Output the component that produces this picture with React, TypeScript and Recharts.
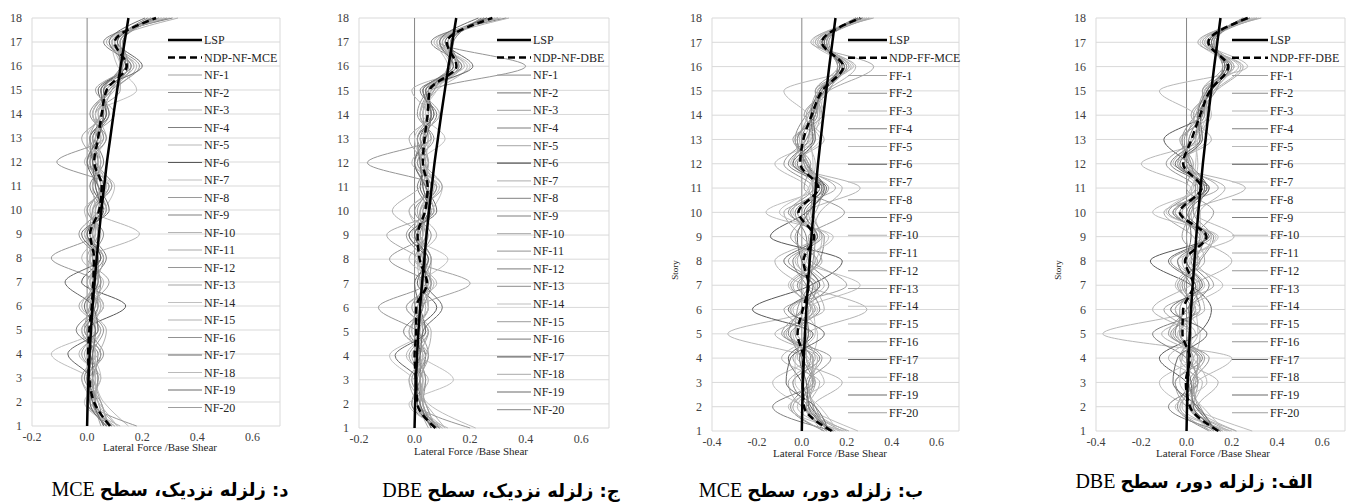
import React from 'react';
import { LineChart, Line, XAxis, YAxis, CartesianGrid, ReferenceLine } from 'recharts';

// story levels, bottom (1) to top (18)
const STORIES = [1, 2, 3, 4, 5, 6, 7, 8, 9, 10, 11, 12, 13, 14, 15, 16, 17, 18];

// code (linear static) distribution, same in all four panels
const LSP = [0, 0.002, 0.005, 0.009, 0.014, 0.02, 0.027, 0.035, 0.043, 0.052, 0.062, 0.072, 0.084, 0.096, 0.109, 0.122, 0.136, 0.15];

// mean nonlinear dynamic distributions
const NDP_NF_MCE = [0.083, 0.025, 0.008, 0.004, 0.008, 0.017, 0.022, 0.025, 0.011, 0.044, 0.053, 0.026, 0.04, 0.053, 0.071, 0.144, 0.1, 0.25];
const NDP_NF_DBE = [0.075, 0.01, 0.005, 0.0, 0.006, 0.006, 0.045, 0.018, 0.011, 0.038, 0.047, 0.03, 0.036, 0.047, 0.054, 0.151, 0.116, 0.28];
const NDP_FF_MCE = [0.133, 0.01, 0.004, 0.007, -0.019, 0.004, 0.03, 0.007, 0.055, -0.015, 0.074, -0.007, 0.007, 0.044, 0.09, 0.185, 0.089, 0.26];
const NDP_FF_DBE = [0.14, 0.015, -0.003, 0.015, -0.018, -0.015, 0.03, -0.007, 0.088, -0.03, 0.066, -0.015, 0.022, 0.06, 0.103, 0.184, 0.096, 0.27];

// individual records (NF-1..NF-20 / FF-1..FF-20), story 1..18
const NF_MCE = [
  [0.10, 0.02, 0.04, -0.02, 0.03, 0.00, 0.05, 0.01, 0.03, 0.02, 0.08, 0.00, 0.06, 0.03, 0.09, 0.16, 0.09, 0.26],
  [0.07, 0.05, -0.01, 0.03, -0.02, 0.04, 0.00, 0.06, -0.01, 0.07, 0.03, 0.05, 0.01, 0.08, 0.05, 0.13, 0.12, 0.24],
  [0.12, 0.00, 0.03, 0.01, 0.05, -0.02, 0.03, 0.02, 0.05, 0.00, 0.06, 0.02, 0.07, 0.04, 0.10, 0.18, 0.07, 0.30],
  [0.06, 0.04, 0.00, 0.05, -0.01, 0.06, 0.01, 0.04, 0.00, 0.05, 0.04, 0.01, 0.03, 0.06, 0.06, 0.12, 0.11, 0.22],
  [0.09, 0.01, 0.05, -0.03, 0.04, 0.02, 0.06, -0.02, 0.04, 0.03, 0.09, -0.01, 0.05, 0.02, 0.08, 0.15, 0.10, 0.27],
  [0.08, 0.03, 0.02, 0.02, 0.00, 0.14, -0.02, 0.05, 0.01, 0.06, 0.02, 0.04, 0.02, 0.07, 0.04, 0.14, 0.13, 0.23],
  [0.15, 0.06, 0.01, -0.13, 0.03, 0.01, 0.04, 0.01, 0.02, -0.01, 0.07, 0.03, 0.00, 0.05, 0.07, 0.17, 0.08, 0.28],
  [0.07, 0.02, 0.04, 0.02, 0.06, 0.00, 0.03, 0.03, -0.03, 0.04, 0.05, 0.02, 0.04, 0.03, 0.12, 0.12, 0.12, 0.25],
  [0.09, 0.00, 0.02, 0.04, -0.04, 0.03, 0.02, 0.07, 0.02, 0.05, 0.01, 0.06, 0.03, 0.08, 0.05, 0.16, 0.06, 0.31],
  [0.11, 0.04, -0.02, 0.03, 0.02, 0.05, 0.00, 0.01, 0.19, 0.02, 0.06, 0.00, 0.05, 0.04, 0.08, 0.15, 0.11, 0.26],
  [0.05, 0.03, 0.03, -0.01, 0.05, -0.03, 0.05, 0.02, 0.00, 0.07, 0.04, 0.03, -0.02, 0.06, 0.06, 0.13, 0.10, 0.24],
  [0.18, 0.01, 0.00, 0.06, 0.01, 0.04, 0.03, -0.13, 0.03, 0.03, 0.08, -0.11, 0.06, 0.02, 0.09, 0.19, 0.09, 0.29],
  [0.08, 0.05, 0.02, 0.00, 0.03, 0.02, 0.08, 0.00, 0.04, 0.01, 0.05, 0.04, 0.02, 0.10, 0.03, 0.14, 0.12, 0.23],
  [0.10, -0.01, 0.05, 0.02, -0.02, 0.06, 0.01, 0.04, -0.01, 0.06, 0.10, 0.02, 0.04, 0.03, 0.18, 0.11, 0.09, 0.27],
  [0.06, 0.02, -0.02, 0.04, 0.07, 0.00, 0.02, 0.03, 0.02, 0.03, 0.02, 0.05, 0.03, 0.05, 0.07, 0.17, 0.10, 0.33],
  [0.09, 0.03, 0.04, 0.01, 0.00, 0.03, 0.05, 0.02, 0.06, 0.00, 0.06, 0.01, 0.07, 0.01, 0.08, 0.15, 0.13, 0.25],
  [0.07, 0.01, 0.01, -0.07, 0.04, 0.02, -0.08, 0.05, 0.00, 0.05, 0.03, 0.02, 0.01, 0.07, 0.06, 0.20, 0.11, 0.24],
  [0.11, 0.04, 0.03, 0.03, 0.01, 0.05, 0.02, 0.01, 0.03, 0.04, 0.07, 0.04, 0.05, 0.02, 0.07, 0.12, 0.09, 0.28],
  [0.06, 0.02, 0.00, 0.02, 0.03, -0.01, 0.04, 0.04, -0.02, 0.08, 0.04, 0.00, 0.04, 0.06, 0.05, 0.14, 0.08, 0.21],
  [0.08, 0.03, 0.02, 0.05, -0.01, 0.01, 0.03, 0.06, 0.01, 0.02, 0.09, 0.03, 0.01, 0.05, 0.09, 0.13, 0.12, 0.26],
];

const NF_DBE = [
  [0.10, 0.02, 0.03, -0.02, 0.04, 0.00, 0.06, 0.01, 0.03, 0.02, 0.08, 0.01, 0.05, 0.03, 0.06, 0.17, 0.09, 0.28],
  [0.07, 0.04, -0.01, 0.03, -0.02, 0.03, 0.02, 0.05, -0.02, 0.07, 0.03, 0.05, 0.01, 0.07, 0.03, 0.14, 0.12, 0.26],
  [0.12, -0.01, 0.03, 0.00, 0.05, -0.03, 0.08, 0.00, 0.05, -0.02, 0.06, 0.02, 0.06, 0.02, 0.08, 0.19, 0.07, 0.31],
  [0.06, 0.03, 0.01, 0.04, 0.00, 0.05, 0.03, 0.04, 0.00, 0.05, 0.04, 0.00, 0.03, 0.06, 0.04, 0.13, 0.14, 0.24],
  [0.09, 0.00, 0.05, -0.03, 0.03, 0.02, 0.07, -0.02, 0.04, 0.03, 0.09, -0.01, 0.05, 0.02, 0.07, 0.16, 0.10, 0.29],
  [0.08, 0.02, 0.02, 0.02, 0.01, 0.08, 0.01, 0.04, 0.01, 0.06, 0.02, 0.04, 0.02, 0.06, 0.05, 0.15, 0.13, 0.25],
  [0.22, 0.05, 0.00, -0.09, 0.03, 0.01, 0.05, 0.01, 0.02, -0.02, 0.07, 0.03, 0.00, 0.05, 0.06, 0.20, 0.08, 0.30],
  [0.07, 0.02, 0.04, 0.02, 0.05, -0.01, 0.04, 0.03, -0.03, 0.04, 0.05, 0.02, 0.04, 0.03, 0.07, 0.12, 0.13, 0.27],
  [0.09, -0.01, 0.02, 0.04, -0.04, 0.03, 0.03, 0.06, 0.02, 0.05, 0.01, 0.05, 0.03, 0.08, 0.02, 0.17, 0.06, 0.33],
  [0.11, 0.04, -0.02, 0.03, 0.02, 0.04, 0.02, 0.01, 0.08, 0.02, 0.06, 0.00, 0.05, 0.04, 0.05, 0.16, 0.11, 0.28],
  [0.05, 0.02, 0.03, -0.01, 0.05, -0.03, 0.06, 0.02, -0.10, 0.07, 0.04, 0.03, -0.02, 0.06, 0.04, 0.14, 0.10, 0.26],
  [0.20, 0.01, 0.00, 0.05, 0.01, -0.13, 0.04, -0.09, 0.03, 0.03, 0.08, -0.17, 0.06, 0.02, 0.06, 0.40, 0.09, 0.30],
  [0.08, 0.04, 0.02, 0.00, 0.03, 0.02, 0.20, 0.00, 0.04, 0.01, 0.05, 0.04, 0.02, 0.09, 0.03, 0.15, 0.12, 0.25],
  [0.10, -0.02, 0.14, 0.02, -0.02, 0.05, 0.03, 0.12, -0.01, 0.06, 0.10, 0.02, 0.11, 0.03, 0.08, 0.13, 0.09, 0.29],
  [0.06, 0.01, -0.02, 0.04, 0.06, 0.00, 0.03, 0.03, 0.02, -0.08, 0.02, 0.05, 0.03, 0.05, -0.01, 0.18, 0.10, 0.34],
  [0.09, 0.03, 0.04, 0.01, 0.00, 0.03, 0.06, 0.02, 0.06, 0.00, 0.06, 0.01, 0.07, 0.01, 0.05, 0.16, 0.13, 0.27],
  [0.07, 0.01, 0.01, -0.07, 0.04, 0.02, 0.00, 0.05, 0.00, 0.05, 0.03, 0.02, 0.01, 0.07, 0.04, 0.21, 0.11, 0.26],
  [0.11, 0.03, 0.03, 0.03, 0.01, 0.05, 0.04, 0.01, 0.03, 0.04, 0.07, 0.04, 0.05, 0.02, 0.06, 0.12, 0.08, 0.30],
  [0.06, 0.02, 0.00, 0.02, 0.03, 0.10, 0.04, 0.04, -0.02, 0.08, 0.04, 0.00, 0.04, 0.06, 0.03, 0.14, 0.09, 0.23],
  [0.08, 0.03, 0.02, 0.05, -0.01, 0.01, 0.05, 0.06, 0.01, 0.02, 0.10, 0.03, 0.01, 0.05, 0.05, 0.13, 0.12, 0.28],
];

const FF_MCE = [
  [0.15, 0.02, 0.06, -0.04, 0.03, -0.05, 0.08, 0.00, 0.04, 0.02, 0.12, -0.04, 0.02, 0.06, 0.10, 0.20, 0.07, 0.27],
  [0.10, -0.05, 0.03, 0.05, -0.08, 0.06, -0.02, 0.08, 0.10, -0.06, 0.05, 0.03, -0.03, 0.02, 0.12, 0.16, 0.10, 0.24],
  [0.20, 0.05, 0.18, -0.02, 0.02, 0.29, 0.01, -0.12, 0.06, 0.03, 0.26, -0.05, 0.04, 0.08, 0.07, 0.22, 0.06, 0.29],
  [0.12, 0.03, -0.04, 0.08, -0.06, 0.00, 0.12, 0.03, 0.02, -0.03, 0.08, 0.01, 0.00, 0.05, 0.09, 0.18, 0.09, 0.25],
  [0.17, -0.02, 0.05, 0.02, -0.33, 0.04, 0.06, -0.03, 0.08, 0.05, 0.03, -0.12, 0.06, 0.03, -0.08, 0.23, 0.08, 0.31],
  [0.13, 0.04, 0.00, -0.06, 0.05, -0.22, 0.04, 0.18, -0.14, 0.02, 0.10, 0.02, -0.02, 0.06, 0.08, 0.17, 0.11, 0.26],
  [0.25, 0.01, -0.13, 0.04, 0.07, 0.02, 0.26, 0.02, 0.14, -0.16, 0.06, -0.03, 0.08, 0.01, 0.11, 0.19, 0.05, 0.28],
  [0.11, 0.06, 0.02, 0.09, -0.02, 0.05, -0.05, 0.06, 0.03, 0.19, 0.01, 0.04, -0.04, 0.09, 0.06, 0.21, 0.10, 0.30],
  [0.14, -0.13, 0.05, 0.00, -0.05, 0.08, 0.02, -0.04, 0.07, -0.02, 0.10, -0.06, 0.03, 0.04, 0.10, 0.16, 0.12, 0.24],
  [0.09, 0.03, 0.08, -0.09, 0.04, -0.04, 0.10, 0.01, 0.05, 0.00, 0.07, 0.02, 0.01, 0.07, 0.08, 0.18, 0.08, 0.27],
  [0.18, 0.00, -0.06, 0.06, 0.01, 0.03, -0.04, 0.09, 0.00, -0.08, 0.15, 0.00, 0.05, 0.02, 0.12, 0.32, 0.04, 0.32],
  [0.12, 0.05, 0.03, 0.13, -0.09, 0.01, 0.07, -0.06, 0.09, 0.04, 0.05, -0.08, 0.02, 0.06, 0.09, 0.20, 0.09, 0.26],
  [0.10, -0.04, 0.06, 0.02, 0.02, -0.08, 0.20, 0.04, -0.03, 0.06, 0.09, 0.03, -0.01, 0.03, 0.07, 0.17, 0.11, 0.25],
  [0.16, 0.08, -0.03, -0.03, 0.06, 0.05, 0.00, 0.02, 0.12, -0.10, 0.04, 0.05, 0.04, 0.08, 0.10, 0.19, 0.07, 0.28],
  [0.21, 0.02, 0.04, 0.07, -0.12, 0.10, 0.05, -0.02, 0.04, 0.08, 0.18, -0.03, 0.10, 0.01, 0.11, 0.24, 0.06, 0.30],
  [0.13, 0.01, 0.00, 0.04, -0.03, -0.02, 0.03, 0.05, 0.06, -0.05, 0.08, 0.02, -0.02, 0.05, 0.09, 0.18, 0.09, 0.26],
  [0.12, 0.06, -0.07, -0.05, 0.10, -0.06, 0.08, 0.00, -0.02, 0.03, 0.11, -0.04, 0.05, 0.04, 0.08, 0.17, 0.10, 0.25],
  [0.19, -0.06, 0.10, 0.03, -0.04, 0.07, -0.06, 0.06, 0.09, -0.04, 0.03, 0.06, 0.03, 0.10, 0.07, 0.21, 0.08, 0.29],
  [0.14, 0.03, 0.02, -0.01, 0.03, 0.02, 0.05, -0.08, 0.07, 0.01, 0.09, -0.02, 0.06, 0.05, 0.10, 0.19, 0.09, 0.27],
  [0.11, 0.02, 0.05, 0.05, -0.07, 0.04, -0.01, 0.07, -0.05, 0.03, 0.06, 0.01, -0.03, 0.07, 0.06, 0.16, 0.11, 0.24],
];

const FF_DBE = [
  [0.16, 0.03, 0.05, -0.03, 0.02, -0.05, 0.06, 0.00, 0.08, -0.02, 0.10, -0.04, 0.03, 0.07, 0.12, 0.20, 0.08, 0.28],
  [0.10, -0.04, 0.02, 0.06, -0.07, 0.04, -0.02, 0.06, 0.12, -0.08, 0.04, 0.02, -0.02, 0.04, 0.13, 0.16, 0.11, 0.25],
  [0.22, 0.05, 0.14, -0.02, 0.01, -0.15, 0.02, 0.20, 0.05, 0.02, 0.26, -0.06, 0.05, 0.09, 0.08, 0.23, 0.07, 0.30],
  [0.13, 0.02, -0.05, 0.07, -0.05, 0.00, 0.10, 0.02, 0.06, -0.05, 0.07, 0.00, 0.01, 0.06, 0.10, 0.18, 0.10, 0.26],
  [0.18, -0.02, 0.04, 0.20, -0.37, 0.03, 0.05, -0.04, 0.21, 0.03, 0.02, -0.20, 0.07, 0.04, -0.12, 0.27, 0.09, 0.32],
  [0.14, 0.04, 0.00, -0.12, 0.05, 0.11, 0.02, -0.16, 0.10, -0.03, 0.09, 0.01, -0.10, 0.07, 0.09, 0.17, 0.12, 0.27],
  [0.29, 0.01, -0.12, 0.03, 0.06, 0.01, 0.16, 0.01, 0.14, -0.15, 0.05, -0.04, 0.09, 0.02, 0.12, 0.19, 0.06, 0.29],
  [0.12, 0.06, 0.01, 0.08, -0.03, 0.04, -0.04, 0.05, 0.04, 0.12, 0.00, 0.03, -0.03, 0.10, 0.07, 0.21, 0.11, 0.31],
  [0.15, -0.08, 0.05, 0.00, -0.15, 0.06, 0.02, -0.04, 0.09, -0.06, 0.09, -0.07, 0.04, 0.05, 0.11, 0.16, 0.13, 0.25],
  [0.10, 0.03, 0.07, -0.08, 0.04, -0.05, 0.08, 0.00, 0.07, -0.02, 0.06, 0.01, 0.02, 0.08, 0.09, 0.18, 0.09, 0.28],
  [0.19, 0.00, -0.05, 0.05, 0.00, 0.02, -0.03, 0.08, 0.03, -0.10, 0.14, -0.01, 0.06, 0.03, 0.13, 0.25, 0.05, 0.33],
  [0.13, 0.05, 0.03, 0.10, -0.08, 0.00, 0.06, -0.07, 0.11, 0.03, 0.04, -0.09, 0.03, 0.07, 0.10, 0.20, 0.10, 0.27],
  [0.11, -0.03, 0.05, 0.02, 0.02, -0.10, 0.12, 0.03, 0.00, 0.04, 0.08, 0.02, 0.00, 0.04, 0.08, 0.17, 0.12, 0.26],
  [0.17, 0.07, -0.03, -0.02, 0.05, 0.04, -0.01, 0.02, 0.13, -0.09, 0.03, 0.04, 0.05, 0.09, 0.11, 0.19, 0.08, 0.29],
  [0.22, 0.02, 0.03, 0.06, -0.11, 0.08, 0.04, -0.02, 0.06, 0.06, 0.17, -0.04, 0.11, 0.02, 0.12, 0.24, 0.07, 0.31],
  [0.14, 0.01, 0.00, 0.03, -0.03, -0.03, 0.03, 0.04, 0.08, -0.06, 0.07, 0.01, -0.01, 0.06, 0.10, 0.18, 0.10, 0.27],
  [0.13, 0.05, -0.06, -0.04, 0.09, -0.07, 0.07, 0.00, 0.02, 0.01, 0.10, -0.05, 0.06, 0.05, 0.09, 0.17, 0.11, 0.26],
  [0.20, -0.05, 0.09, 0.03, -0.04, 0.06, -0.05, 0.05, 0.11, -0.05, 0.02, 0.05, 0.04, 0.11, 0.08, 0.21, 0.09, 0.30],
  [0.15, 0.03, 0.02, 0.00, 0.02, 0.01, 0.04, -0.08, 0.09, 0.00, 0.08, -0.03, 0.07, 0.06, 0.11, 0.19, 0.10, 0.28],
  [0.12, 0.02, 0.04, 0.05, -0.06, 0.03, -0.01, 0.06, -0.02, 0.02, 0.05, 0.00, -0.02, 0.08, 0.07, 0.16, 0.12, 0.25],
];

const NF_TICKS = [-0.2, 0, 0.2, 0.4, 0.6];
const FF_TICKS = [-0.4, -0.2, 0, 0.2, 0.4, 0.6];

const GREYS = [
  '#a0a0a0', '#8c8c8c', '#b3b3b3', '#7f7f7f', '#b8b8b8', '#595959', '#bdbdbd', '#9a9a9a', '#808080', '#b5b5b5',
  '#a8a8a8', '#969696', '#a3a3a3', '#c0c0c0', '#b0b0b0', '#929292', '#666666', '#bababa', '#6b6b6b', '#9e9e9e',
];

const SERIF = 'Liberation Serif, DejaVu Serif, serif';

const buildRows = (ndp: number[], records: number[][]) =>
  STORIES.map((story, i) => {
    const row: Record<string, number> = { story, lsp: LSP[i], ndp: ndp[i] };
    records.forEach((r, k) => {
      row[`r${k + 1}`] = r[i];
    });
    return row;
  });

interface PanelProps {
  width: number;
  height: number;
  right: number;
  bottom: number;
  yWidth: number;
  xMin: number;
  ticks: number[];
  ndp: number[];
  records: number[][];
}

const Panel: React.FC<PanelProps> = ({ width, height, right, bottom, yWidth, xMin, ticks, ndp, records }) => {
  const rows = buildRows(ndp, records);
  return (
    <LineChart layout="vertical" width={width} height={height} data={rows} margin={{ top: 18, right, bottom, left: 0 }}>
      <CartesianGrid vertical={false} stroke="#d9d9d9" />
      <XAxis
        type="number"
        domain={[xMin, 0.7]}
        ticks={ticks}
        allowDataOverflow
        tickFormatter={(v: number) => v.toFixed(1)}
        axisLine={false}
        tickLine={false}
        tickSize={6}
        tickMargin={0}
        height={20}
        tick={{ fontSize: 12, fill: '#404040', fontFamily: SERIF }}
      />
      <YAxis
        type="number"
        dataKey="story"
        domain={[1, 18]}
        ticks={STORIES}
        interval={0}
        reversed
        axisLine={false}
        tickLine={false}
        tickSize={6}
        tickMargin={4}
        width={yWidth}
        tick={{ fontSize: 12, fill: '#404040', fontFamily: SERIF }}
      />
      <ReferenceLine x={xMin} stroke="#d9d9d9" />
      <ReferenceLine x={0.7} stroke="#d9d9d9" />
      <ReferenceLine x={0} stroke="#868686" />
      {records.map((_, k) => (
        <Line
          key={k}
          dataKey={`r${k + 1}`}
          type="monotone"
          stroke={GREYS[k]}
          strokeWidth={1}
          dot={false}
          isAnimationActive={false}
        />
      ))}
      <Line dataKey="ndp" type="monotone" stroke="#000" strokeWidth={2.5} strokeDasharray="7 4" dot={false} isAnimationActive={false} />
      <Line dataKey="lsp" type="monotone" stroke="#000" strokeWidth={2.5} dot={false} isAnimationActive={false} />
    </LineChart>
  );
};

interface LegendProps {
  left: number;
  lineW: number;
  step: number;
  ndpLabel: string;
  prefix: string;
}

const SeriesLegend: React.FC<LegendProps> = ({ left, lineW, step, ndpLabel, prefix }) => {
  const items = [
    { label: 'LSP', color: '#000', w: 2.5, dash: undefined as string | undefined },
    { label: ndpLabel, color: '#000', w: 2.5, dash: '7 4' },
    ...GREYS.map((c, k) => ({ label: `${prefix}-${k + 1}`, color: c, w: 1.2, dash: undefined as string | undefined })),
  ];
  return (
    <svg
      width={lineW + 90}
      height={400}
      style={{ position: 'absolute', left, top: 30, overflow: 'visible', pointerEvents: 'none' }}
    >
      {items.map((it, i) => {
        const y = 10 + i * step;
        return (
          <g key={it.label}>
            <line x1={0} x2={lineW} y1={y} y2={y} stroke={it.color} strokeWidth={it.w} strokeDasharray={it.dash} />
            <text x={lineW + 2} y={y + 4} fontSize={12} fontFamily={SERIF} fill="#262626">
              {it.label}
            </text>
          </g>
        );
      })}
    </svg>
  );
};

const abs = (left: number, top: number): React.CSSProperties => ({ position: 'absolute', left, top });

const AxisTitle = ({ cx, cy }: { cx: number; cy: number }) => (
  <div
    style={{
      position: 'absolute',
      left: cx - 80,
      top: cy - 7,
      width: 160,
      textAlign: 'center',
      fontFamily: SERIF,
      fontSize: 11,
      lineHeight: '14px',
      color: '#262626',
    }}
  >
    Lateral Force /Base Shear
  </div>
);

const StoryLabel = ({ cx, cy }: { cx: number; cy: number }) => (
  <div
    style={{
      position: 'absolute',
      left: cx - 20,
      top: cy - 6,
      width: 40,
      textAlign: 'center',
      fontFamily: SERIF,
      fontSize: 9,
      lineHeight: '12px',
      color: '#262626',
      transform: 'rotate(-90deg)',
    }}
  >
    Story
  </div>
);

const Caption = ({ cx, cy, text, level }: { cx: number; cy: number; text: string; level: string }) => (
  <div
    dir="rtl"
    style={{
      position: 'absolute',
      left: cx - 150,
      top: cy - 12,
      width: 300,
      textAlign: 'center',
      fontFamily: SERIF,
      fontSize: 20,
      lineHeight: '24px',
      color: '#000',
      whiteSpace: 'nowrap',
    }}
  >
    <span style={{ fontWeight: 'bold', fontSize: 18, fontFamily: 'DejaVu Sans, sans-serif' }}>{text}</span> <span>{level}</span>
  </div>
);

export default function App() {
  return (
    <div style={{ position: 'absolute', left: 0, top: 0, width: 1347, height: 504, background: '#fff', overflow: 'hidden' }}>
      {/* panel d: near field, MCE */}
      <div style={abs(0, 0)}>
        <Panel width={290} height={460} right={10} bottom={14} yWidth={32} xMin={-0.2} ticks={NF_TICKS} ndp={NDP_NF_MCE} records={NF_MCE} />
      </div>
      <SeriesLegend left={168} lineW={34} step={17.5} ndpLabel="NDP-NF-MCE" prefix="NF" />
      <AxisTitle cx={160} cy={447} />
      <Caption cx={170} cy={489} text="د: زلزله نزدیک، سطح" level="MCE" />

      {/* panel c: near field, DBE */}
      <div style={abs(327, 0)}>
        <Panel width={292} height={462} right={10} bottom={14} yWidth={32} xMin={-0.2} ticks={NF_TICKS} ndp={NDP_NF_DBE} records={NF_DBE} />
      </div>
      <SeriesLegend left={497} lineW={34} step={17.6} ndpLabel="NDP-NF-DBE" prefix="NF" />
      <AxisTitle cx={471} cy={451} />
      <Caption cx={501} cy={490} text="ج: زلزله نزدیک، سطح" level="DBE" />

      {/* panel b: far field, MCE */}
      <div style={abs(660, 0)}>
        <Panel width={310} height={465} right={11} bottom={14} yWidth={52} xMin={-0.4} ticks={FF_TICKS} ndp={NDP_FF_MCE} records={FF_MCE} />
      </div>
      <SeriesLegend left={848} lineW={39} step={17.75} ndpLabel="NDP-FF-MCE" prefix="FF" />
      <StoryLabel cx={675} cy={270} />
      <AxisTitle cx={830} cy={453} />
      <Caption cx={811} cy={490} text="ب: زلزله دور، سطح" level="MCE" />

      {/* panel a: far field, DBE */}
      <div style={abs(1040, 0)}>
        <Panel width={307} height={465} right={2} bottom={14} yWidth={56} xMin={-0.4} ticks={FF_TICKS} ndp={NDP_FF_DBE} records={FF_DBE} />
      </div>
      <SeriesLegend left={1232} lineW={36} step={17.75} ndpLabel="NDP-FF-DBE" prefix="FF" />
      <StoryLabel cx={1058} cy={270} />
      <AxisTitle cx={1213} cy={453} />
      <Caption cx={1194} cy={481} text="الف: زلزله دور، سطح" level="DBE" />
    </div>
  );
}
